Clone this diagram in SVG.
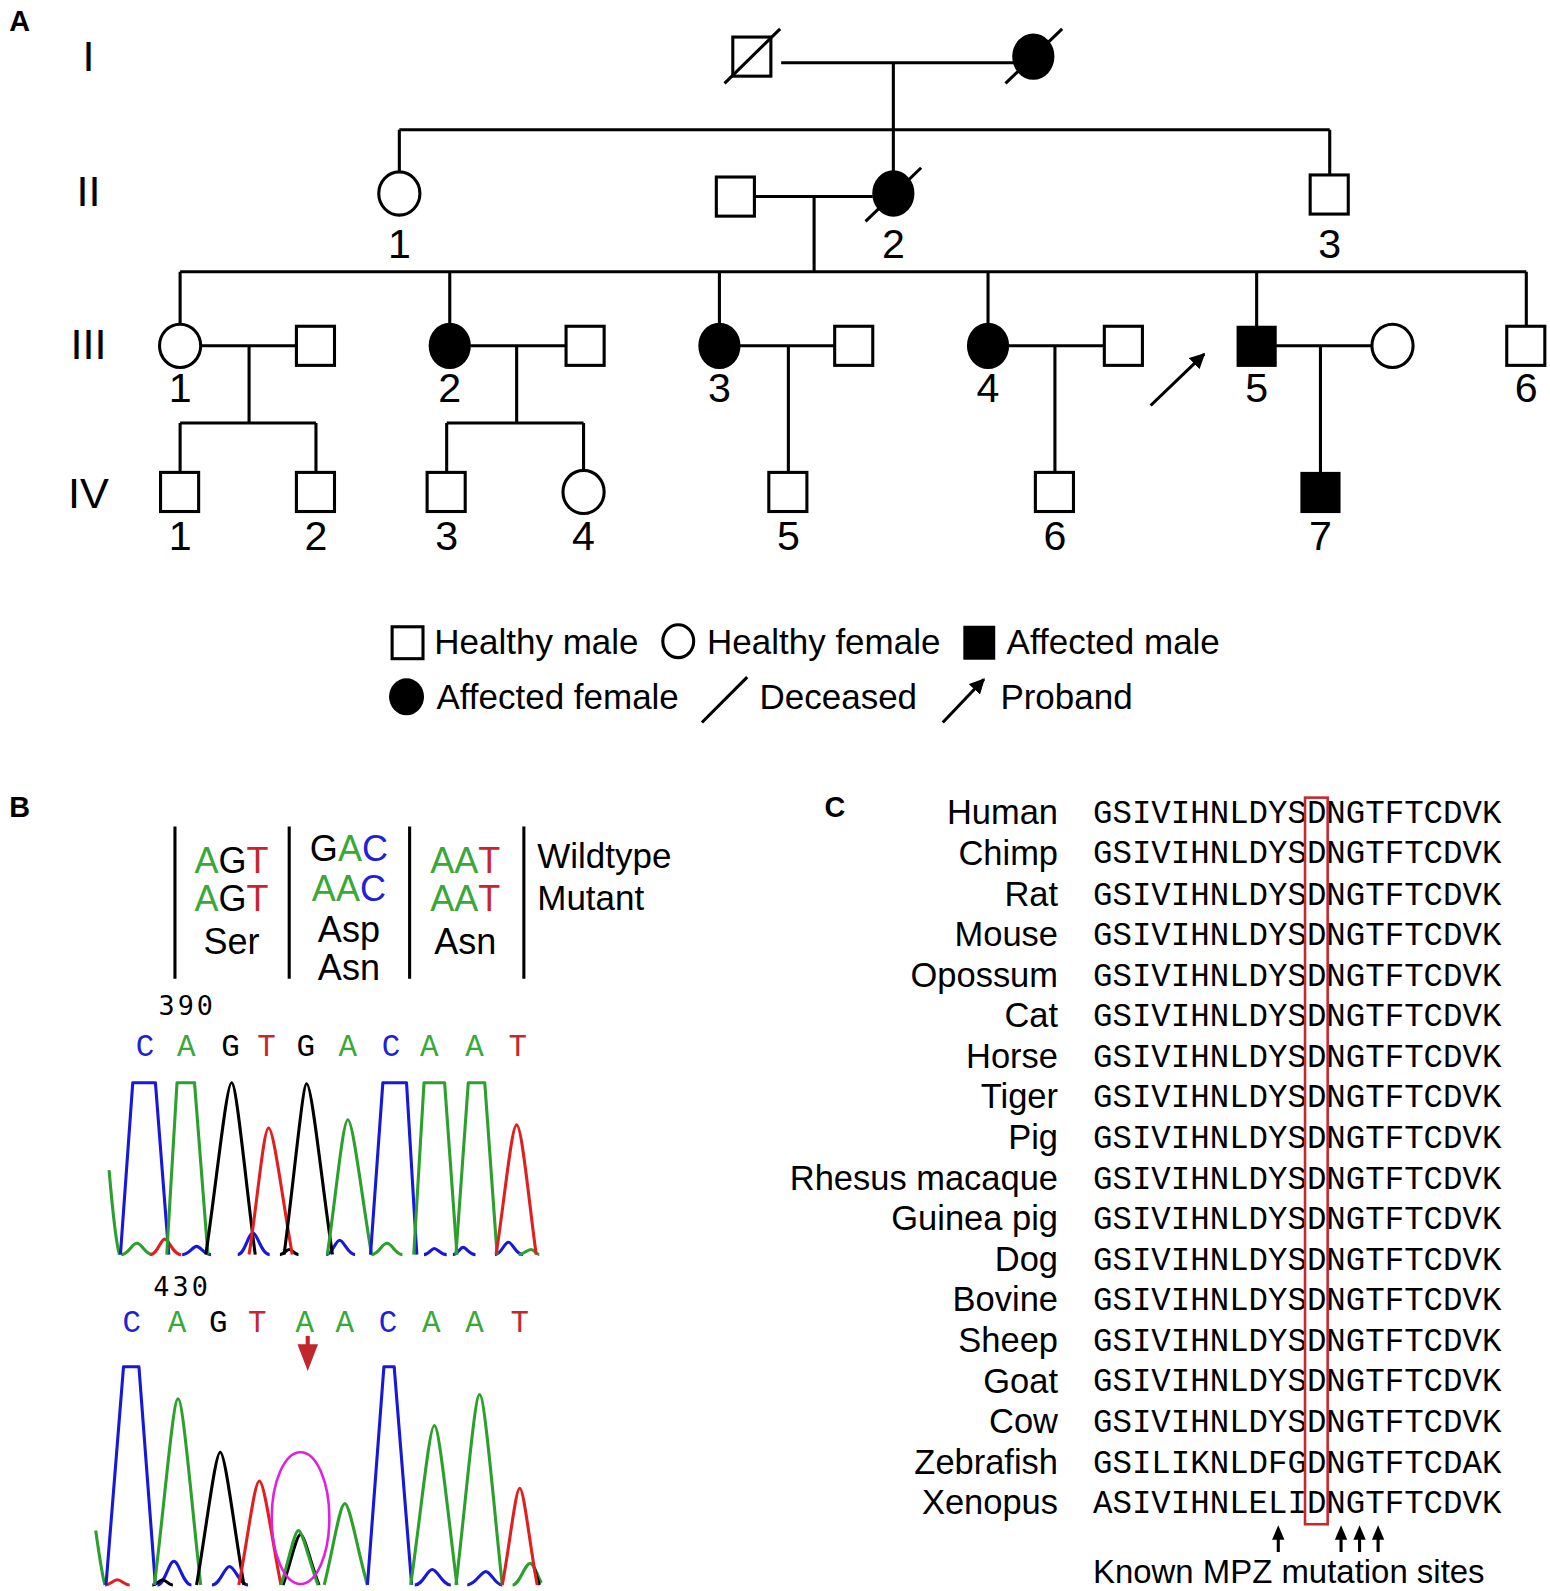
<svg xmlns="http://www.w3.org/2000/svg" width="1550" height="1591" viewBox="0 0 1550 1591">
<style>
.ln{stroke:#000;stroke-width:3;fill:none}
.sh{stroke:#000;stroke-width:3;fill:#fff}
.af{stroke:#000;stroke-width:3;fill:#000}
.lab{font-family:"Liberation Sans",Arial,sans-serif;font-size:40px;fill:#000;text-anchor:middle}
.gen{font-family:"Liberation Sans",Arial,sans-serif;font-size:42px;fill:#000;text-anchor:middle}
.pl{font-family:"Liberation Sans",Arial,sans-serif;font-size:28px;font-weight:bold;fill:#000}
.leg{font-family:"Liberation Sans",Arial,sans-serif;font-size:34px;fill:#000}
.cod{font-family:"Liberation Sans",Arial,sans-serif;font-size:35px;fill:#000;text-anchor:middle}
.g{fill:#38a838}.r{fill:#c8262c}.b{fill:#2020d8}.k{fill:#000}
.base{font-family:"Liberation Mono","Courier New",monospace;font-size:30px;text-anchor:middle}
.num{font-family:"DejaVu Sans Mono","Liberation Mono",monospace;font-size:26px;fill:#000;letter-spacing:3px}
.sp{font-family:"Liberation Sans",Arial,sans-serif;font-size:33.5px;fill:#000;text-anchor:end}
.seq{font-family:"Liberation Mono","Courier New",monospace;font-size:31.5px;fill:#000}
.cg{stroke:#2ca02c;stroke-width:3;fill:none;stroke-linejoin:round}
.cb{stroke:#1818d8;stroke-width:3;fill:none;stroke-linejoin:round}
.ck{stroke:#000;stroke-width:3;fill:none;stroke-linejoin:round}
.cr{stroke:#e02020;stroke-width:3;fill:none;stroke-linejoin:round}
</style>
<defs>
<marker id="ah" viewBox="0 0 10 10" refX="9" refY="5" markerWidth="5" markerHeight="5" orient="auto" markerUnits="strokeWidth">
<path d="M0,0 L10,5 L0,10 Z" fill="#000"/>
</marker>
</defs>
<rect width="1550" height="1591" fill="#fff"/>
<g transform="scale(1.0292)">

<!-- Panel A -->
<text class="pl" x="9" y="30">A</text>
<g id="genlabels">
<text class="gen" x="86" y="69">I</text>
<text class="gen" x="86" y="200">II</text>
<text class="gen" x="86" y="349">III</text>
<text class="gen" x="86" y="494">IV</text>
</g>

<g id="connectors">
<path class="ln" d="M759,61 H998 M868,61 V126 M388,126 H1292 M388,126 V170 M868,126 V170 M1292,126 V172"/>
<path class="ln" d="M733,191 H848 M791,191 V264 M175,264 H1483 M175,264 V319 M437,264 V319 M699,264 V319 M960,264 V319 M1221,264 V321 M1483,264 V321"/>
<path class="ln" d="M195,336 H288 M242,336 V411 M175,411 H307 M175,411 V459 M307,411 V459"/>
<path class="ln" d="M457,336 H550 M502,336 V411 M434,411 H567 M434,411 V458 M567,411 V457"/>
<path class="ln" d="M719,336 H811 M766,336 V459"/>
<path class="ln" d="M980,336 H1073 M1025,336 V459"/>
<path class="ln" d="M1240,336 H1333 M1283,336 V459"/>
<line class="ln" x1="1118" y1="394" x2="1170" y2="344" marker-end="url(#ah)"/>
</g>

<g id="I-1"><rect class="sh" x="712" y="36" width="37" height="38"/><line class="ln" x1="704" y1="81" x2="758" y2="28"/></g>
<g id="I-2"><ellipse class="af" cx="1004" cy="55" rx="19" ry="21"/><line class="ln" x1="977" y1="81" x2="1032" y2="28"/></g>
<g id="II-1"><ellipse class="sh" cx="388" cy="188" rx="20" ry="21"/><text class="lab" x="388" y="251">1</text></g>
<g id="II-spouse"><rect class="sh" x="696" y="172" width="37" height="38"/></g>
<g id="II-2"><ellipse class="af" cx="868" cy="188" rx="19" ry="21"/><line class="ln" x1="841" y1="215" x2="895" y2="163"/><text class="lab" x="868" y="251">2</text></g>
<g id="II-3"><rect class="sh" x="1273" y="170" width="37" height="38"/><text class="lab" x="1292" y="251">3</text></g>

<g id="III-1"><ellipse class="sh" cx="175" cy="336" rx="20" ry="21"/><text class="lab" x="175" y="391">1</text></g>
<g id="III-1s"><rect class="sh" x="288" y="317" width="37" height="38"/></g>
<g id="III-2"><ellipse class="af" cx="437" cy="336" rx="19" ry="21"/><text class="lab" x="437" y="391">2</text></g>
<g id="III-2s"><rect class="sh" x="550" y="317" width="37" height="38"/></g>
<g id="III-3"><ellipse class="af" cx="699" cy="336" rx="19" ry="21"/><text class="lab" x="699" y="391">3</text></g>
<g id="III-3s"><rect class="sh" x="811" y="317" width="37" height="38"/></g>
<g id="III-4"><ellipse class="af" cx="960" cy="336" rx="19" ry="21"/><text class="lab" x="960" y="391">4</text></g>
<g id="III-4s"><rect class="sh" x="1073" y="317" width="37" height="38"/></g>
<g id="III-5"><rect class="af" x="1203" y="318" width="36" height="37"/><text class="lab" x="1221" y="391">5</text></g>
<g id="III-5s"><ellipse class="sh" cx="1353" cy="336" rx="20" ry="21"/></g>
<g id="III-6"><rect class="sh" x="1464" y="317" width="37" height="38"/><text class="lab" x="1483" y="391">6</text></g>

<g id="IV-1"><rect class="sh" x="156" y="459" width="37" height="38"/><text class="lab" x="175" y="534">1</text></g>
<g id="IV-2"><rect class="sh" x="288" y="459" width="37" height="38"/><text class="lab" x="307" y="534">2</text></g>
<g id="IV-3"><rect class="sh" x="415" y="459" width="37" height="38"/><text class="lab" x="434" y="534">3</text></g>
<g id="IV-4"><ellipse class="sh" cx="567" cy="478" rx="20" ry="21"/><text class="lab" x="567" y="534">4</text></g>
<g id="IV-5"><rect class="sh" x="747" y="459" width="37" height="38"/><text class="lab" x="766" y="534">5</text></g>
<g id="IV-6"><rect class="sh" x="1006" y="459" width="37" height="38"/><text class="lab" x="1025" y="534">6</text></g>
<g id="IV-7"><rect class="af" x="1265" y="460" width="36" height="37"/><text class="lab" x="1283" y="534">7</text></g>

<g id="legend">
<rect class="sh" x="381" y="609" width="30" height="31"/><text class="leg" x="422" y="635">Healthy male</text>
<ellipse class="sh" cx="659" cy="623" rx="15" ry="16"/><text class="leg" x="687" y="635">Healthy female</text>
<rect x="936" y="608" width="31" height="33" fill="#000"/><text class="leg" x="978" y="635">Affected male</text>
<ellipse cx="395" cy="677" rx="17" ry="18" fill="#000"/><text class="leg" x="424" y="689">Affected female</text>
<line class="ln" x1="682" y1="702" x2="726" y2="658"/><text class="leg" x="738" y="689">Deceased</text>
<line class="ln" x1="916" y1="702" x2="956" y2="660" marker-end="url(#ah)"/><text class="leg" x="972" y="689">Proband</text>
</g>

<!-- Panel B -->
<text class="pl" x="9" y="794">B</text>
<g id="codons">
<path class="ln" d="M170,803 V951 M281,803 V951 M398,803 V951 M509,803 V951"/>
<text class="cod" x="225" y="848"><tspan class="g">A</tspan><tspan class="k">G</tspan><tspan class="r">T</tspan></text>
<text class="cod" x="225" y="885"><tspan class="g">A</tspan><tspan class="k">G</tspan><tspan class="r">T</tspan></text>
<text class="cod" x="225" y="927">Ser</text>
<text class="cod" x="339" y="837"><tspan class="k">G</tspan><tspan class="g">A</tspan><tspan class="b">C</tspan></text>
<text class="cod" x="339" y="875"><tspan class="g">A</tspan><tspan class="g">A</tspan><tspan class="b">C</tspan></text>
<text class="cod" x="339" y="915">Asp</text>
<text class="cod" x="339" y="952">Asn</text>
<text class="cod" x="452" y="848"><tspan class="g">A</tspan><tspan class="g">A</tspan><tspan class="r">T</tspan></text>
<text class="cod" x="452" y="885"><tspan class="g">A</tspan><tspan class="g">A</tspan><tspan class="r">T</tspan></text>
<text class="cod" x="452" y="927">Asn</text>
<text class="leg" x="522" y="843">Wildtype</text>
<text class="leg" x="522" y="884">Mutant</text>
</g>

<g id="chromatogram-wt">
<text class="num" x="154" y="986">390</text>
<text class="base b" x="141" y="1026">C</text>
<text class="base g" x="181" y="1026">A</text>
<text class="base k" x="224" y="1026">G</text>
<text class="base r" x="259" y="1026">T</text>
<text class="base k" x="297" y="1026">G</text>
<text class="base g" x="338" y="1026">A</text>
<text class="base b" x="380" y="1026">C</text>
<text class="base g" x="417" y="1026">A</text>
<text class="base g" x="461" y="1026">A</text>
<text class="base r" x="503" y="1026">T</text>
<path class="cb" d="M177,1219 C184,1219 187,1211 191,1211 C195,1211 198,1219 205,1219 M231,1219 C238,1219 241,1198 246,1198 C250,1198 254,1219 262,1219 M317,1219 C323,1219 326,1205 330,1205 C334,1205 338,1219 345,1219 M412,1219 C417,1219 419,1213 422,1213 C425,1213 428,1219 434,1219 M440,1219 C445,1219 447,1212 450,1212 C453,1212 456,1219 462,1219 M481,1219 C487,1219 490,1207 494,1207 C498,1207 501,1219 508,1219"/>
<path class="cg" d="M118,1219 C125,1219 128,1208 133,1208 C138,1208 141,1219 148,1219 M361,1219 C368,1219 371,1208 376,1208 C381,1208 384,1219 391,1219 M504,1219 C509,1219 512,1214 516,1214 C519,1214 521,1219 524,1219"/>
<path class="cr" d="M146,1219 C153,1219 156,1204 160,1204 C164,1204 168,1219 176,1219"/>
<path class="ck" d="M272,1219 C276,1219 278,1214 281,1214 C284,1214 286,1219 290,1219"/>
<path class="cg" d="M106,1137 C109,1172 112,1205 116,1219"/>
<path class="cb" d="M117,1219 L129,1052 L151,1052 L164,1219"/>
<path class="cg" d="M162,1219 L172,1052 L189,1052 L202,1219"/>
<path class="ck" d="M200,1219 C210,1152 220,1052 225,1052 C230,1052 239,1152 248,1219"/>
<path class="cr" d="M242,1219 C250,1169 256,1096 261,1096 C266,1096 275,1169 284,1219"/>
<path class="ck" d="M276,1219 C285,1152 294,1053 298,1053 C303,1053 313,1152 323,1219"/>
<path class="cg" d="M318,1219 C326,1166 333,1088 338,1088 C343,1088 352,1166 361,1219"/>
<path class="cb" d="M360,1219 L372,1052 L395,1052 L405,1219"/>
<path class="cg" d="M402,1219 L412,1052 L432,1052 L444,1219"/>
<path class="cg" d="M443,1219 L455,1052 L471,1052 L483,1219"/>
<path class="cr" d="M482,1219 C490,1168 497,1093 502,1093 C507,1093 514,1168 521,1219"/>
</g>

<g id="chromatogram-mut">
<text class="num" x="149" y="1259">430</text>
<text class="base b" x="128" y="1294">C</text>
<text class="base g" x="172" y="1294">A</text>
<text class="base k" x="212" y="1294">G</text>
<text class="base r" x="250" y="1294">T</text>
<text class="base g" x="296" y="1294">A</text>
<text class="base g" x="335" y="1294">A</text>
<text class="base b" x="377" y="1294">C</text>
<text class="base g" x="419" y="1294">A</text>
<text class="base g" x="461" y="1294">A</text>
<text class="base r" x="505" y="1294">T</text>
<path d="M299,1298 V1310" stroke="#c0282c" stroke-width="4"/>
<path d="M289,1306 L309,1306 L299,1332 Z" fill="#c0282c"/>
<path class="cr" d="M102,1540 C107,1540 110,1535 114,1535 C118,1535 121,1540 126,1540"/>
<path class="cb" d="M153,1540 C160,1540 164,1517 169,1517 C174,1517 178,1540 186,1540 M206,1540 C214,1540 218,1522 223,1522 C228,1522 233,1540 241,1540 M403,1540 C411,1540 415,1525 420,1525 C425,1525 430,1540 438,1540 M454,1540 C462,1540 467,1527 472,1527 C477,1527 481,1540 488,1540"/>
<path class="cg" d="M498,1540 C505,1540 510,1519 515,1519 C519,1519 523,1533 526,1538"/>
<path class="ck" d="M148,1540 C152,1540 155,1535 158,1535 C161,1535 164,1540 168,1540 M519,1523 L524,1540"/>
<path class="cg" d="M93,1487 C96,1508 99,1530 102,1540"/>
<path class="cb" d="M103,1540 L120,1328 L135,1328 L151,1540"/>
<path class="cg" d="M150,1540 C159,1470 168,1359 173,1359 C178,1359 187,1470 195,1540"/>
<path class="ck" d="M191,1540 C200,1489 209,1411 214,1411 C219,1411 228,1489 237,1540"/>
<path class="cr" d="M232,1540 C240,1501 247,1439 252,1439 C257,1439 265,1501 273,1540"/>
<path class="ck" d="M275,1540 C282,1520 288,1491 292,1491 C296,1491 302,1520 310,1540"/>
<path class="cg" d="M273,1540 C280,1519 286,1487 290,1487 C294,1487 301,1519 309,1540"/>
<path class="cg" d="M315,1540 C323,1509 330,1461 335,1461 C340,1461 348,1509 357,1540"/>
<path class="cb" d="M357,1540 L373,1328 L383,1328 L400,1540"/>
<path class="cg" d="M399,1540 C408,1479 417,1385 422,1385 C427,1385 436,1479 444,1540"/>
<path class="cg" d="M443,1540 C452,1466 461,1355 466,1355 C471,1355 480,1466 488,1540"/>
<path class="cr" d="M488,1540 C495,1503 501,1446 505,1446 C509,1446 515,1503 522,1540"/>
<ellipse cx="292" cy="1475" rx="28" ry="64" fill="none" stroke="#e020e0" stroke-width="2.5"/>
</g>

<!-- Panel C -->
<text class="pl" x="801" y="794">C</text>
<g id="alignment">
<text class="sp" x="1028" y="801">Human</text>
<text class="sp" x="1028" y="840">Chimp</text>
<text class="sp" x="1028" y="880">Rat</text>
<text class="sp" x="1028" y="919">Mouse</text>
<text class="sp" x="1028" y="959">Opossum</text>
<text class="sp" x="1028" y="998">Cat</text>
<text class="sp" x="1028" y="1038">Horse</text>
<text class="sp" x="1028" y="1077">Tiger</text>
<text class="sp" x="1028" y="1116">Pig</text>
<text class="sp" x="1028" y="1156">Rhesus macaque</text>
<text class="sp" x="1028" y="1195">Guinea pig</text>
<text class="sp" x="1028" y="1235">Dog</text>
<text class="sp" x="1028" y="1274">Bovine</text>
<text class="sp" x="1028" y="1314">Sheep</text>
<text class="sp" x="1028" y="1353">Goat</text>
<text class="sp" x="1028" y="1392">Cow</text>
<text class="sp" x="1028" y="1432">Zebrafish</text>
<text class="sp" x="1028" y="1471">Xenopus</text>
<g>
<text class="seq" x="1062" y="800">GSIVIHNLDYSDNGTFTCDVK</text>
<text class="seq" x="1062" y="839">GSIVIHNLDYSDNGTFTCDVK</text>
<text class="seq" x="1062" y="879">GSIVIHNLDYSDNGTFTCDVK</text>
<text class="seq" x="1062" y="918">GSIVIHNLDYSDNGTFTCDVK</text>
<text class="seq" x="1062" y="958">GSIVIHNLDYSDNGTFTCDVK</text>
<text class="seq" x="1062" y="997">GSIVIHNLDYSDNGTFTCDVK</text>
<text class="seq" x="1062" y="1037">GSIVIHNLDYSDNGTFTCDVK</text>
<text class="seq" x="1062" y="1076">GSIVIHNLDYSDNGTFTCDVK</text>
<text class="seq" x="1062" y="1115">GSIVIHNLDYSDNGTFTCDVK</text>
<text class="seq" x="1062" y="1155">GSIVIHNLDYSDNGTFTCDVK</text>
<text class="seq" x="1062" y="1194">GSIVIHNLDYSDNGTFTCDVK</text>
<text class="seq" x="1062" y="1234">GSIVIHNLDYSDNGTFTCDVK</text>
<text class="seq" x="1062" y="1273">GSIVIHNLDYSDNGTFTCDVK</text>
<text class="seq" x="1062" y="1313">GSIVIHNLDYSDNGTFTCDVK</text>
<text class="seq" x="1062" y="1352">GSIVIHNLDYSDNGTFTCDVK</text>
<text class="seq" x="1062" y="1391">GSIVIHNLDYSDNGTFTCDVK</text>
<text class="seq" x="1062" y="1431">GSILIKNLDFGDNGTFTCDAK</text>
<text class="seq" x="1062" y="1470">ASIVIHNLELIDNGTFTCDVK</text>
</g>
<rect x="1268" y="775" width="22" height="706" fill="none" stroke="#c8282c" stroke-width="2.5"/>
<g stroke="#000" stroke-width="3">
<line x1="1242" y1="1508" x2="1242" y2="1492"/>
<line x1="1303" y1="1508" x2="1303" y2="1492"/>
<line x1="1321" y1="1508" x2="1321" y2="1492"/>
<line x1="1339" y1="1508" x2="1339" y2="1492"/>
</g>
<g fill="#000">
<path d="M1236,1496 L1248,1496 L1242,1482 Z"/>
<path d="M1297,1496 L1309,1496 L1303,1482 Z"/>
<path d="M1315,1496 L1327,1496 L1321,1482 Z"/>
<path d="M1333,1496 L1345,1496 L1339,1482 Z"/>
</g>
<text class="leg" x="1062" y="1538" style="font-size:32px">Known MPZ mutation sites</text>
</g>
</g>
</svg>
